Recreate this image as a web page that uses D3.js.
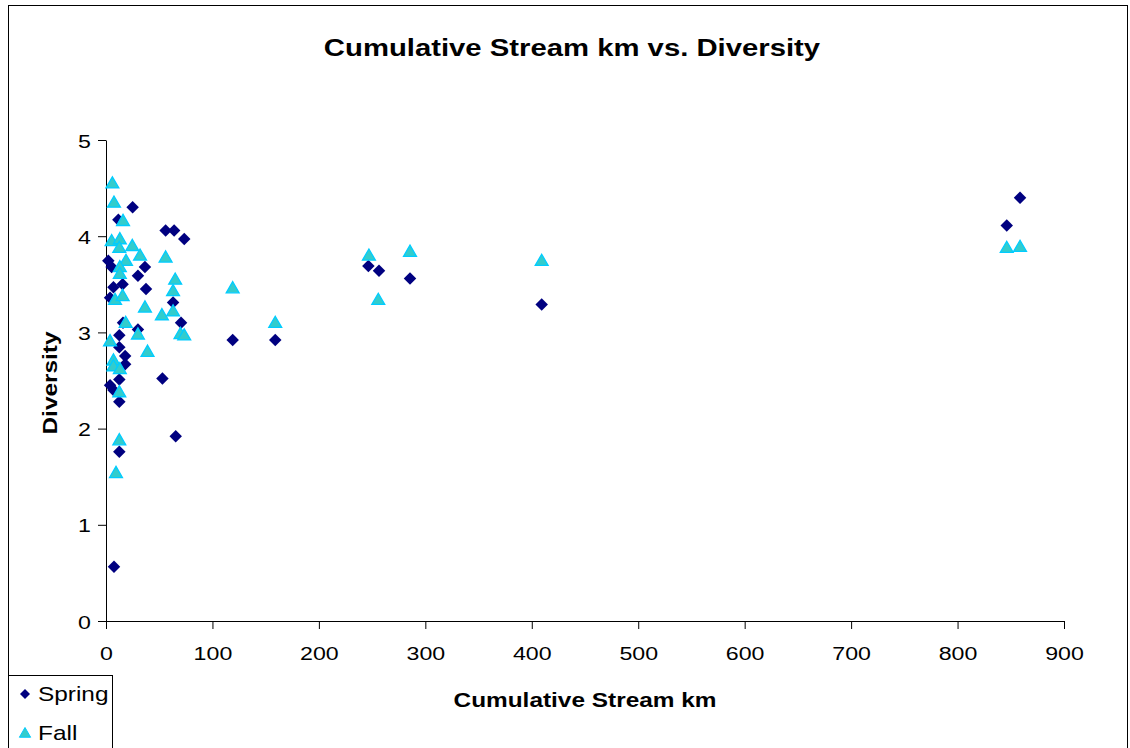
<!DOCTYPE html>
<html><head><meta charset="utf-8">
<script src="https://cdn.jsdelivr.net/npm/d3@7"></script>
<style>body{margin:0;background:#fff}svg{display:block}text{font-family:"Liberation Sans",Arial,sans-serif}</style>
</head><body>
<svg id="c" width="1130" height="748"></svg>
<script>
const springX = [2.2,5.3,7,3.8,11.6,25,56,64,73.5,36.6,30,15.6,37.6,63,70.5,16,30,12.5,12.5,18,18,12.5,53,3.8,7,12.5,65.5,12.5,7.5,119,159,246.5,256.5,285.6,409.3,846.2,858.7];
const springY = [3.745,3.68,3.47,3.36,4.17,4.30,4.06,4.06,3.97,3.68,3.59,3.50,3.45,3.31,3.10,3.10,3.03,2.97,2.845,2.755,2.67,2.51,2.52,2.45,2.40,2.28,1.92,1.76,0.565,2.92,2.92,3.69,3.64,3.56,3.29,4.11,4.40];
const fallX = [6,7.5,16,5.3,13,12.5,24.7,32,56,18.8,13,13,65,63,8.5,15.6,36.6,52.5,63,18.5,30,70,73.5,3.8,39,7,7,13,12.5,12.5,9.4,119,159,247,255.8,285.6,409.3,846.2,858.7];
const fallY = [4.54,4.34,4.15,3.94,3.96,3.87,3.89,3.79,3.77,3.735,3.67,3.60,3.54,3.42,3.33,3.37,3.25,3.17,3.21,3.09,2.97,2.975,2.96,2.90,2.79,2.70,2.64,2.61,2.37,1.87,1.53,3.45,3.09,3.79,3.33,3.83,3.735,3.87,3.88];
const xTicks = [0,100,200,300,400,500,600,700,800,900];
const yTicks = [0,1,2,3,4,5];
const seriesNames = ["Spring","Fall"];
const title = "Cumulative Stream km vs. Diversity";
const xTitle = "Cumulative Stream km";
const yTitle = "Diversity";

const SX = 1.22; // horizontal stretch of the original typeface
const svg = d3.select("#c");
svg.append("rect").attr("x",8.5).attr("y",5.5).attr("width",1119).attr("height",800)
  .attr("fill","#fff").attr("stroke","#000").attr("stroke-width",1);

const x = d3.scaleLinear().domain([0,900]).range([106,1064]);
const y = d3.scaleLinear().domain([0,5]).range([621,140]);

function stext(parent, tx, ty, rot, str, size, bold, anchor){
  return parent.append("text")
    .attr("transform",`translate(${tx},${ty}) rotate(${rot}) scale(${SX},1)`)
    .attr("text-anchor",anchor).attr("font-size",size)
    .attr("font-weight",bold?"bold":"normal").attr("fill","#000").text(str);
}

// axes
const gx = svg.append("g").attr("transform","translate(0,621)")
  .call(d3.axisBottom(x).tickValues(xTicks).tickFormat(d3.format("d")).tickSize(8).tickSizeOuter(0));
const gy = svg.append("g").attr("transform","translate(106,0)")
  .call(d3.axisLeft(y).tickValues(yTicks).tickFormat(d3.format("d")).tickSize(8).tickSizeOuter(0));
[gx,gy].forEach(g=>{
  g.select(".domain").attr("stroke","#000");
  g.selectAll(".tick line").attr("stroke","#000");
  g.selectAll(".tick text").remove();
});
gx.selectAll(".tick").each(function(d){
  stext(d3.select(this), 0, 39, 0, d3.format("d")(d), 19, false, "middle");
});
gy.selectAll(".tick").each(function(d){
  stext(d3.select(this), -15, 7, 0, d3.format("d")(d), 19, false, "end");
});

const spring = springX.map((v,i)=>({x:v,y:springY[i]}));
const fall = fallX.map((v,i)=>({x:v,y:fallY[i]}));

svg.append("g").selectAll("path").data(spring).join("path")
  .attr("d", d3.symbol().type(d3.symbolSquare).size(78))
  .attr("transform", d=>`translate(${x(d.x)},${y(d.y)}) rotate(45)`)
  .attr("fill","#000080");

svg.append("g").selectAll("path").data(fall).join("path")
  .attr("d", d3.symbol().type(d3.symbolTriangle).size(72))
  .attr("transform", d=>`translate(${x(d.x)},${y(d.y)})`)
  .attr("fill","#33CCCC").attr("stroke","#00CCFF").attr("stroke-width",1.3);

// titles
stext(svg, 572, 56, 0, title, 24, true, "middle");
stext(svg, 585, 707, 0, xTitle, 20, true, "middle");
stext(svg, 57, 383, -90, yTitle, 20, true, "middle");

// legend
svg.append("rect").attr("x",8.5).attr("y",675.5).attr("width",104).attr("height",100)
  .attr("fill","#fff").attr("stroke","#000");
const lg = svg.append("g");
lg.append("path").attr("d", d3.symbol().type(d3.symbolSquare).size(50))
  .attr("transform","translate(25,694) rotate(45)").attr("fill","#000080");
lg.append("path").attr("d", d3.symbol().type(d3.symbolTriangle).size(55))
  .attr("transform","translate(25,734)").attr("fill","#33CCCC").attr("stroke","#00CCFF");
stext(lg, 38, 701, 0, seriesNames[0], 20, false, "start");
stext(lg, 38, 740, 0, seriesNames[1], 20, false, "start");
</script>
</body></html>
